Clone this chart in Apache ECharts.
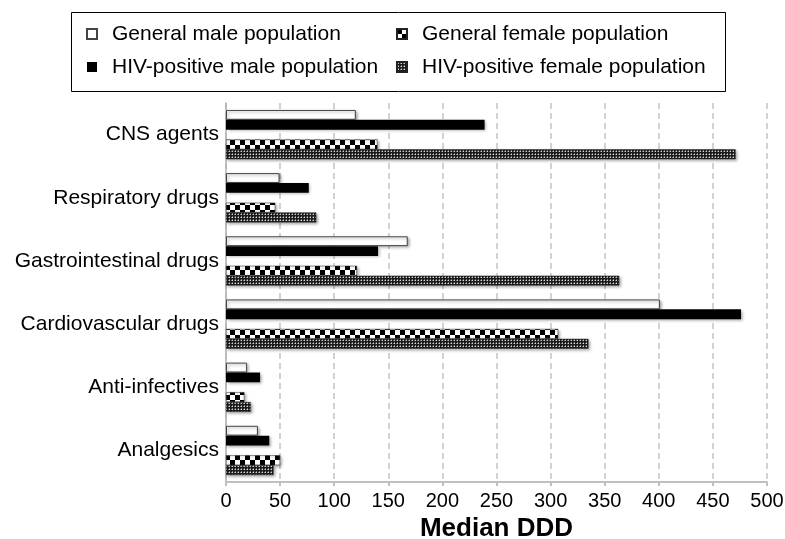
<!DOCTYPE html>
<html>
<head>
<meta charset="utf-8">
<script src="https://cdn.jsdelivr.net/npm/echarts@6/dist/echarts.min.js"></script>
<style>
html,body{margin:0;padding:0;background:#fff;}
#chart{width:785px;height:539px;}
</style>
</head>
<body>
<div id="chart"></div>
<script>
const categories = ['CNS agents','Respiratory drugs','Gastrointestinal drugs','Cardiovascular drugs','Anti-infectives','Analgesics'];
const genMale    = [120, 49.5, 168, 401, 19.5, 29.5];
const hivMale    = [239, 76.5, 140.5, 476, 31.5, 40];
const genFemale  = [140, 45.5, 121, 307, 17, 50];
const hivFemale  = [471, 83.5, 363.5, 335, 23, 44];
const xTicks = [0,50,100,150,200,250,300,350,400,450,500];
const seriesNames = ['General male population','HIV-positive male population','General female population','HIV-positive female population'];

function checker(){
  const c = document.createElement('canvas'); c.width = 10; c.height = 10;
  const g = c.getContext('2d');
  g.fillStyle = '#fff'; g.fillRect(0,0,10,10);
  g.fillStyle = '#000'; g.fillRect(0,0,5,5); g.fillRect(5,5,5,5);
  return c;
}
function dotted(){
  const c = document.createElement('canvas'); c.width = 3; c.height = 3;
  const g = c.getContext('2d');
  g.fillStyle = '#1c1c1c'; g.fillRect(0,0,3,3);
  g.fillStyle = '#d8d8d8'; g.fillRect(1,1,1,1);
  g.fillStyle = '#777'; g.fillRect(0,1,1,1); g.fillRect(1,0,1,1);
  return c;
}
const font = 'Liberation Sans, Arial, sans-serif';
const shadow = {shadowColor:'rgba(0,0,0,0.35)', shadowBlur:3, shadowOffsetX:1.5, shadowOffsetY:1.5};

const chart = echarts.init(document.getElementById('chart'), null, {renderer:'canvas'});
const mk = (name, data, style) => ({
  name, type:'bar', data, barGap:'0%', barCategoryGap:'22%',
  itemStyle: Object.assign({}, shadow, style),
  emphasis:{disabled:true}, animation:false
});
const legendText = {fontSize:21, color:'#000', lineHeight:22, padding:[0,0,0,10], fontFamily:font};
chart.setOption({
  animation:false,
  textStyle:{fontFamily:font},
  grid:{left:226, right:18, top:103, bottom:57, containLabel:false, outerBoundsMode:'none'},
  graphic:[{type:'rect', shape:{x:71.5,y:12.5,width:654,height:79}, style:{fill:'none', stroke:'#000', lineWidth:1}, z:0}],
  legend:[
    {orient:'vertical', left:86, top:23, padding:0, itemWidth:10, itemHeight:10, itemGap:11, icon:'rect',
     data:[seriesNames[0], seriesNames[1]], textStyle:legendText, selectedMode:false},
    {orient:'vertical', left:396, top:23, padding:0, itemWidth:10, itemHeight:10, itemGap:11, icon:'rect',
     data:[seriesNames[2], seriesNames[3]], textStyle:legendText, selectedMode:false}
  ],
  xAxis:{
    type:'value', min:0, max:500, interval:50,
    name:'Median DDD', nameLocation:'middle', nameGap:31,
    nameTextStyle:{fontSize:26, fontWeight:'bold', color:'#000', fontFamily:font},
    axisLine:{show:true, lineStyle:{color:'#c0c0c0', width:2}},
    axisTick:{show:true, length:4, lineStyle:{color:'#c0c0c0', width:2}},
    axisLabel:{fontSize:20, color:'#000', margin:9, fontFamily:font,
      formatter:(v)=> xTicks.includes(v) ? String(v) : ''},
    splitLine:{show:true, lineStyle:{color:'#c4c4c4', width:1.5, type:[6,4]}}
  },
  yAxis:{
    type:'category', data:categories, inverse:true,
    axisLine:{show:true, lineStyle:{color:'#b0b0b0', width:1.5}},
    axisTick:{show:false},
    axisLabel:{fontSize:21, color:'#000', margin:7, fontFamily:font},
    splitLine:{show:false}
  },
  series:[
    mk(seriesNames[0], genMale, {color:'#fff', borderColor:'#444', borderWidth:1}),
    mk(seriesNames[1], hivMale, {color:'#000'}),
    {name:'spacer', type:'bar', data:categories.map(()=>null), barGap:'0%', barCategoryGap:'22%', silent:true},
    mk(seriesNames[2], genFemale, {color:{image:checker(), repeat:'repeat'}, borderColor:'#222', borderWidth:0.5}),
    mk(seriesNames[3], hivFemale, {color:{image:dotted(), repeat:'repeat'}, borderColor:'#222', borderWidth:0.5})
  ]
});
</script>
</body>
</html>
